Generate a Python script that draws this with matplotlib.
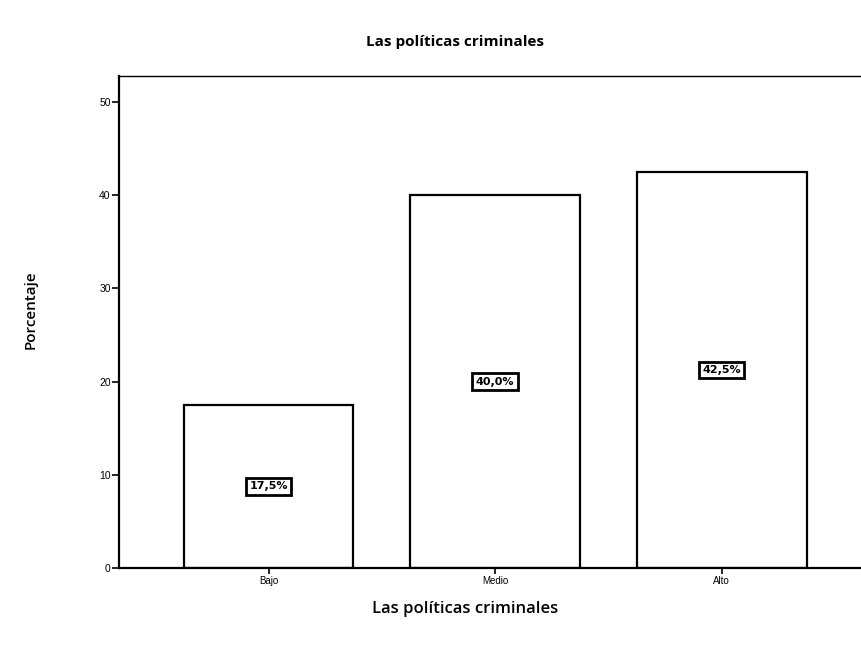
import matplotlib

matplotlib.use("Agg")
import matplotlib.pyplot as plt

categories = ["Bajo", "Medio", "Alto"]
percentages = [17.5, 40.0, 42.5]
bar_labels = ["17,5%", "40,0%", "42,5%"]
y_ticks = [0, 10, 20, 30, 40, 50]

fig = plt.figure(figsize=(8.62, 6.47), dpi=100)
ax = fig.add_axes([119 / 862, 79 / 647, (862 - 119) / 862, 492 / 647])

x = list(range(len(categories)))
ax.bar(x, percentages, width=0.75, color="white", edgecolor="black", linewidth=1.6)

for xi, val, lab in zip(x, percentages, bar_labels):
    ax.text(
        xi,
        val / 2,
        lab,
        ha="center",
        va="center",
        fontsize=8,
        fontweight="bold",
        family="Liberation Sans Narrow",
        bbox={"boxstyle": "square,pad=0.3", "facecolor": "white", "edgecolor": "black", "linewidth": 2},
    )

ax.set_xlim(-0.66, 2.62)
ax.set_ylim(0, 52.8)
ax.set_yticks(y_ticks)
ax.set_yticklabels([str(t) for t in y_ticks], fontsize=7.5, family="Liberation Sans")
ax.set_xticks(x)
ax.set_xticklabels(categories, fontsize=7, family="Liberation Sans")
ax.tick_params(axis="y", length=5, width=1.2, pad=1)
ax.tick_params(axis="x", length=4, width=1.2, pad=2)

ax.spines["right"].set_visible(False)
for side in ["left", "bottom"]:
    ax.spines[side].set_linewidth(1.6)
ax.spines["top"].set_linewidth(1.0)

fig.text(455 / 862, 1 - 42 / 647, "Las políticas criminales", ha="center", va="center",
         fontsize=11, fontweight="bold", family="Open Sans")
fig.text(465 / 862, 1 - 609 / 647, "Las políticas criminales", ha="center", va="center",
         fontsize=12, fontweight="semibold", family="Open Sans")
fig.text(31 / 862, 1 - 310 / 647, "Porcentaje", ha="center", va="center", rotation=90,
         fontsize=11, fontweight="semibold", family="Open Sans")

fig.savefig("out.png", dpi=100, facecolor="white")
